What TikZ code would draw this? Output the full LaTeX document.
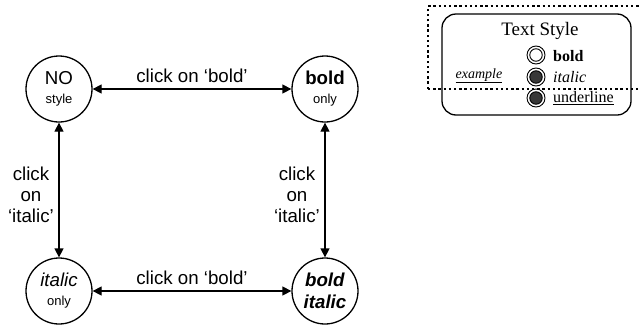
\documentclass[tikz,border=0pt]{standalone}
\usepackage{fontspec}
\setmainfont{Liberation Sans}
\newfontfamily\serifleg{Liberation Serif}
\usetikzlibrary{arrows.meta}
\tikzset{
  state/.style={circle, draw, line width=1.3pt, minimum size=66pt, inner sep=0pt, align=center},
  conn/.style={line width=1.3pt, {Triangle[length=9pt,width=9pt]}-{Triangle[length=9pt,width=9pt]}},
  big/.style={font=\fontsize{18.7}{21}\selectfont},
  lab/.style={big, inner sep=0pt, align=center},
  radio/.style={circle, draw, line width=0.9pt, minimum size=18pt, inner sep=0pt},
  dot/.style={circle, draw, line width=0.9pt, minimum size=12.5pt, inner sep=0pt},
  legtext/.style={inner sep=0pt, anchor=base west, font=\serifleg\fontsize{16}{18}\selectfont},
  dotline/.style={line width=2.4pt, dash pattern=on 2.4pt off 2.8pt}
}
\begin{document}
\begin{tikzpicture}[x=1pt,y=-1pt]
\useasboundingbox (0,0) rectangle (639,327);
\clip (0,0) rectangle (639,327);
% states
\node[state, big] (no) at (59,89) {NO\\[-2pt]{\fontsize{13}{15}\selectfont style}};
\node[state, big] (bo) at (325,89) {\textbf{bold}\\[-2pt]{\fontsize{13}{15}\selectfont only}};
\node[state, big] (it) at (59,291) {\textit{italic}\\[-2pt]{\fontsize{13}{15}\selectfont only}};
\node[state, big] (bi) at (325,291) {\textbf{\textit{bold}}\\[1pt]\textbf{\textit{italic}}};
% connectors
\draw[conn] (no) -- (bo);
\draw[conn] (it) -- (bi);
\draw[conn] (no) -- (it);
\draw[conn] (bo) -- (bi);
% labels
\node[lab] (l1) at (192,76) {click on `bold'};
\node[lab] (l2) at (192,278) {click on `bold'};
\node[lab, anchor=east] (l3) at (54,195) {click\\on\\`italic'};
\node[lab, anchor=east] (l4) at (320,195) {click\\on\\`italic'};
% legend
\draw[line width=1.3pt, rounded corners=14pt] (442,14) rectangle (631,115);
\node[inner sep=0pt, anchor=base, font=\serifleg\fontsize{19}{21}\selectfont] (ts) at (540,35) {Text Style};
\node[radio] (r1) at (536,55) {};
\node[dot, fill=white] (d1) at (536,55) {};
\node[radio] (r2) at (536,77) {};
\node[dot, fill=black!78] (d2) at (536,77) {};
\node[radio] (r3) at (536,98) {};
\node[dot, fill=black!78] (d3) at (536,98) {};
\node[legtext] (t1) at (553,61) {\textbf{bold}};
\node[legtext] (t2) at (553,82.5) {\textit{italic}};
\node[legtext] (t3) at (553,102.5) {\underline{underline}};
\node[inner sep=0pt, anchor=base, font=\serifleg\fontsize{14}{16}\selectfont] (ex) at (479,78.3) {\underline{\textit{example}}};
\draw[dotline] (428,89) -- (428,6) -- (650,6);
\draw[dotline] (428,89) -- (650,89);
\end{tikzpicture}
\end{document}
